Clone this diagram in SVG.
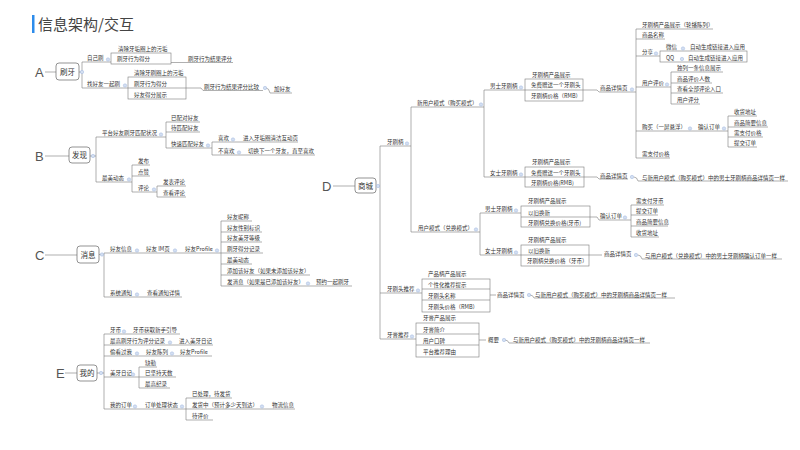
<svg xmlns="http://www.w3.org/2000/svg" width="800" height="450" viewBox="0 0 800 450">
<style>
.t{font-family:"Noto Sans CJK SC","Noto Sans",sans-serif;font-size:5.5px;fill:#333}
.kt{font-family:"Noto Sans CJK SC","Noto Sans",sans-serif;font-size:7.5px;fill:#333;text-anchor:middle}
.L{font-family:"Liberation Sans",sans-serif;font-size:13px;fill:#555}
.ttl{font-family:"Noto Sans CJK SC","Noto Sans",sans-serif;font-size:15px;fill:#444}
.l{stroke:#7a7a7a;stroke-width:0.6;fill:none}
.b{stroke:#7a7a7a;stroke-width:0.6;fill:none}
.k{stroke:#666;stroke-width:0.7;fill:#fff}
.c{fill:#d3dff2;stroke:#a3b9de;stroke-width:0.5}
</style>
<defs><circle id="dot" class="c" r="1.7"/></defs>
<rect width="800" height="450" fill="#fff"/>
<g id="title">
<rect x="32" y="15" width="2.5" height="18" fill="#2d8ceb"/>
<text x="38" y="30" class="ttl">信息架构/交互</text>
</g>
<g id="connectors">
<path class="l" d="M45,72H56 M79,72H82 M82,62V88 M82,62H111 M171,62.5H233 M82,88H128 M186,88H201L203,90.5H263 M266,88Q269,88 270,93H292"/>
<path class="l" d="M45,156H69 M90,156H96 M96,137V182 M96,137H166 M166,122V148 M166,122H200 M166,132H200 M166,148H212 M212,142V155 M212,142H298 M212,155H315 M96,182H132 M132,165V192 M132,165H150 M132,176H150 M132,192H157 M157,186V197 M157,186H186 M157,197H186"/>
<path class="l" d="M45,255H77 M99,254.5H104 M104,253V297 M104,253H221 M221,221V286 M221,221H252 M221,232H262 M221,242H262 M221,253H263 M221,264H252 M221,275H310 M221,286H352 M104,297H182"/>
<path class="l" d="M65,373H77 M97,373H104 M104,334V409 M104,334H180 M104,345H213 M104,356H212 M104,377H139 M139,367V388 M139,367H157 M139,377H176 M139,388H170 M104,409H186 M186,398V420 M186,398H232 M186,409H295 M186,420H213"/>
<path class="l" d="M333,186H355 M376,186H380 M380,146V339 M380,146H411 M411,107V232 M411,107H484 M484,90V177 M484,90H525 M583,90H597L599,92H636 M636,29V158 M636,29H713 M636,39H665 M636,56H660 M636,87H671 M671,72V104 M671,72H723 M671,83H712 M671,93H723 M671,104H700 M636,131H728 M728,116V147 M728,116H757 M728,127H768 M728,137H763 M728,147H757 M636,158H670 M484,177H525 M584,177H597L599,179H628 M634,177Q637,177 638,181H788"/>
<path class="l" d="M411,232H480 M480,213V255 M480,213H521 M590,217H597L599,220H631 M631,205V237 M631,205H664 M631,215H658 M631,226H668 M631,237H659 M480,255H521 M589,255H602 M638,255Q641,255 642,259H782"/>
<path class="l" d="M380,293H422 M490,295H496 M530,295Q533,295 534,298H675 M380,339H416 M479,340H486 M505,340Q508,340 509,343H650"/>
</g>
<g id="node-A">
<text x="35" y="76.5" class="L">A</text>
<rect x="56" y="63" width="23" height="17" rx="3" class="k"/>
<text x="67.5" y="74.5" class="kt">刷牙</text>
<use href="#dot" x="82" y="72"/>
<text x="87" y="59.5" class="t">自己刷</text><use href="#dot" x="108" y="59.5"/>
<rect x="111" y="53" width="60" height="11" class="b"/>
<text x="118" y="51" class="t">清除牙垢圈上的污垢</text>
<text x="117" y="61" class="t">刷牙行为得分</text>
<text x="188" y="60.5" class="t">刷牙行为结果评分</text>
<text x="87" y="85.5" class="t">找好友一起刷</text><use href="#dot" x="125" y="85.5"/>
<rect x="128" y="77" width="58" height="22" class="b"/>
<path class="b" d="M128,88H186"/>
<text x="134" y="74.5" class="t">清除牙刷圈上的污垢</text>
<text x="134" y="85.5" class="t">刷牙行为得分</text>
<text x="134" y="96.5" class="t">好友得分展示</text>
<text x="204" y="88.5" class="t">刷牙行为结果评分比较</text><use href="#dot" x="265" y="88"/>
<text x="274" y="91" class="t">加好友</text>
</g>
<g id="node-B">
<text x="35" y="160.5" class="L">B</text>
<rect x="69" y="147" width="21" height="16" rx="3" class="k"/>
<text x="79.5" y="158" class="kt">发现</text>
<use href="#dot" x="93" y="156"/>
<text x="102" y="135" class="t">平台好友刷牙匹配状况</text><use href="#dot" x="161" y="134.5"/>
<text x="171" y="120" class="t">已配对好友</text>
<text x="171" y="130" class="t">待匹配好友</text>
<text x="171" y="146" class="t">快速匹配好友</text><use href="#dot" x="208" y="145.5"/>
<text x="218" y="140" class="t">喜欢</text><use href="#dot" x="233" y="139.5"/>
<text x="243" y="140" class="t">进入牙垢圈清洁互动页</text>
<text x="218" y="153" class="t">不喜欢</text><use href="#dot" x="239" y="152.5"/>
<text x="248" y="153" class="t">切换下一个牙友，直至喜欢</text>
<text x="102" y="180" class="t">最美动态</text><use href="#dot" x="129" y="179.5"/>
<text x="138" y="163" class="t">发布</text>
<text x="138" y="174" class="t">点赞</text>
<text x="138" y="190" class="t">评论</text><use href="#dot" x="154" y="189.5"/>
<text x="163" y="184" class="t">发表评论</text>
<text x="163" y="195" class="t">查看评论</text>
</g>
<g id="node-C">
<text x="35" y="259.5" class="L">C</text>
<rect x="77" y="246" width="22" height="17" rx="3" class="k"/>
<text x="88" y="257.5" class="kt">消息</text>
<use href="#dot" x="102" y="254.5"/>
<text x="110" y="251" class="t">好友信息</text><use href="#dot" x="137" y="250.5"/>
<text x="146" y="251" class="t">好友 IM页</text><use href="#dot" x="175" y="250.5"/>
<text x="185" y="251" class="t">好友Profile</text><use href="#dot" x="217" y="250.5"/>
<text x="227" y="219" class="t">好友昵称</text>
<text x="227" y="230" class="t">好友性别标识</text>
<text x="227" y="240" class="t">好友美牙等级</text>
<text x="227" y="251" class="t">刷牙得分记录</text>
<text x="227" y="262" class="t">最美动态</text>
<text x="227" y="273" class="t">添加该好友（如果未添加该好友）</text>
<text x="227" y="284" class="t">发消息（如果是已添加该好友）</text><use href="#dot" x="308" y="283.5"/>
<text x="316" y="284" class="t">预约一起刷牙</text>
<text x="110" y="295" class="t">系统通知</text><use href="#dot" x="137" y="294.5"/>
<text x="147" y="295" class="t">查看通知详情</text>
</g>
<g id="node-E">
<text x="56" y="377.5" class="L">E</text>
<rect x="77" y="365" width="20" height="16" rx="3" class="k"/>
<text x="87" y="376" class="kt">我的</text>
<use href="#dot" x="101" y="373"/>
<text x="110" y="332" class="t">牙币</text><use href="#dot" x="124" y="331.5"/>
<text x="133" y="332" class="t">牙币获取新手引导</text>
<text x="110" y="343" class="t">最高刷牙行为评分记录</text><use href="#dot" x="170" y="342.5"/>
<text x="179" y="343" class="t">进入美牙日记</text>
<text x="110" y="354" class="t">偷看过我</text><use href="#dot" x="137" y="353.5"/>
<text x="146" y="354" class="t">好友陈列</text><use href="#dot" x="172" y="353.5"/>
<text x="180" y="354" class="t">好友Profile</text>
<text x="110" y="375" class="t">美牙日记</text><use href="#dot" x="133" y="374.5"/>
<text x="145" y="365" class="t">缺勤</text>
<text x="145" y="375" class="t">已坚持天数</text>
<text x="145" y="386" class="t">最高纪录</text>
<text x="110" y="407" class="t">我的订单</text><use href="#dot" x="135" y="406.5"/>
<text x="145" y="407" class="t">订单处理状态</text><use href="#dot" x="182" y="406.5"/>
<text x="192" y="396" class="t">已处理，待发货</text>
<text x="192" y="407" class="t">发货中（预计多少天到达）</text><use href="#dot" x="262" y="406.5"/>
<text x="272" y="407" class="t">物流信息</text>
<text x="192" y="418" class="t">待评价</text>
</g>
<g id="node-D">
<text x="322" y="190.5" class="L">D</text>
<rect x="355" y="178" width="21" height="15" rx="3" class="k"/>
<text x="365.5" y="188.5" class="kt">商城</text>
<use href="#dot" x="378" y="186"/>
<text x="387" y="144" class="t">牙刷柄</text><use href="#dot" x="407" y="143.5"/>
<text x="417" y="105" class="t">新用户模式（购买模式）</text><use href="#dot" x="481" y="104.5"/>
<text x="490" y="88" class="t">男士牙刷柄</text><use href="#dot" x="521" y="87.5"/>
<rect x="525" y="79" width="58" height="22" class="b"/>
<path class="b" d="M525,90H583"/>
<text x="532" y="77" class="t">牙刷柄产品展示</text>
<text x="531" y="87" class="t">免费赠送一个牙刷头</text>
<text x="531" y="98" class="t">牙刷柄价格（RMB）</text>
<text x="600" y="90" class="t">商品详情页</text><use href="#dot" x="632" y="89.5"/>
<text x="642" y="27" class="t">牙刷柄产品展示（轮播陈列）</text>
<text x="642" y="37" class="t">商品名称</text>
<text x="642" y="54" class="t">分享</text><use href="#dot" x="656" y="53.5"/>
<rect x="660" y="51" width="87" height="11" class="b"/>
<text x="666" y="49" class="t">微信</text><use href="#dot" x="683" y="48.5"/>
<text x="690" y="49" class="t">自动生成链接进入应用</text>
<text x="666" y="59.5" class="t">QQ</text><use href="#dot" x="682" y="59"/>
<text x="688" y="59.5" class="t">自动生成链接进入应用</text>
<text x="642" y="85" class="t">用户评价</text><use href="#dot" x="667" y="84.5"/>
<text x="677" y="70" class="t">独列一条信息展示</text>
<text x="677" y="81" class="t">商品评价人数</text>
<text x="677" y="91" class="t">查看全部评论入口</text>
<text x="677" y="102" class="t">用户评分</text>
<text x="642" y="129" class="t">购买（一屏悬浮）</text><use href="#dot" x="690" y="128.5"/>
<text x="698" y="129" class="t">确认订单</text><use href="#dot" x="724" y="128.5"/>
<text x="734" y="114" class="t">收货地址</text>
<text x="734" y="125" class="t">商品简要信息</text>
<text x="734" y="135" class="t">需支付价格</text>
<text x="734" y="145" class="t">提交订单</text>
<text x="642" y="156" class="t">需支付价格</text>
<text x="490" y="175" class="t">女士牙刷柄</text><use href="#dot" x="521" y="174.5"/>
<rect x="525" y="167" width="59" height="20" class="b"/>
<path class="b" d="M525,177H584"/>
<text x="532" y="164" class="t">牙刷柄产品展示</text>
<text x="531" y="174.5" class="t">免费赠送一个牙刷头</text>
<text x="531" y="185" class="t">牙刷柄价格(RMB)</text>
<text x="600" y="178" class="t">商品详情页</text><use href="#dot" x="632" y="177"/>
<text x="642" y="179.5" class="t">与新用户模式（购买模式）中的男士牙刷柄商品详情页一样</text>
<text x="418" y="230" class="t">用户模式（兑换模式）</text><use href="#dot" x="476" y="229.5"/>
<text x="485" y="211" class="t">男士牙刷柄</text><use href="#dot" x="516" y="210.5"/>
<rect x="521" y="206" width="69" height="21" class="b"/>
<path class="b" d="M521,217H590"/>
<text x="528" y="203" class="t">牙刷柄产品展示</text>
<text x="528" y="214.5" class="t">以旧换新</text>
<text x="528" y="224.5" class="t">牙刷柄兑换价格(牙币)</text>
<text x="600" y="218" class="t">确认订单</text><use href="#dot" x="625" y="217.5"/>
<text x="636" y="203" class="t">需支付牙币</text>
<text x="636" y="213" class="t">提交订单</text>
<text x="636" y="224" class="t">商品简要信息</text>
<text x="636" y="235" class="t">收货地址</text>
<text x="485" y="253" class="t">女士牙刷柄</text><use href="#dot" x="516" y="252.5"/>
<rect x="521" y="245" width="68" height="21" class="b"/>
<path class="b" d="M521,255H589"/>
<text x="528" y="242" class="t">牙刷柄产品展示</text>
<text x="528" y="252.5" class="t">以旧换新</text>
<text x="527" y="263" class="t">牙刷柄兑换价格（牙币）</text>
<text x="604" y="256" class="t">商品详情页</text><use href="#dot" x="636" y="255"/>
<text x="645" y="257.5" class="t">与用户模式（兑换模式）中的男士牙刷柄确认订单一样</text>
<text x="387" y="291" class="t">牙刷头推荐</text><use href="#dot" x="418" y="290.5"/>
<rect x="422" y="279" width="68" height="33" class="b"/>
<path class="b" d="M422,289H490 M422,300H490"/>
<text x="428" y="276" class="t">产品柄产品展示</text>
<text x="428" y="286.5" class="t">个性化推荐提示</text>
<text x="428" y="297.5" class="t">牙刷头名称</text>
<text x="428" y="308.5" class="t">牙刷头价格（RMB）</text>
<text x="497" y="297" class="t">商品详情页</text><use href="#dot" x="529" y="295"/>
<text x="535" y="296.5" class="t">与新用户模式（购买模式）中的牙刷柄商品详情页一样</text>
<text x="387" y="337" class="t">牙膏推荐</text><use href="#dot" x="412" y="336.5"/>
<rect x="416" y="323" width="63" height="34" class="b"/>
<path class="b" d="M416,334H479 M416,345H479"/>
<text x="423" y="320" class="t">牙膏产品展示</text>
<text x="423" y="331.5" class="t">牙膏简介</text>
<text x="423" y="342.5" class="t">用户口碑</text>
<text x="423" y="353.5" class="t">平台推荐理由</text>
<text x="488" y="342" class="t">概要</text><use href="#dot" x="504" y="340"/>
<text x="513" y="341.5" class="t">与新用户模式（购买模式）中的牙刷柄商品详情页一样</text>
</g>
</svg>
